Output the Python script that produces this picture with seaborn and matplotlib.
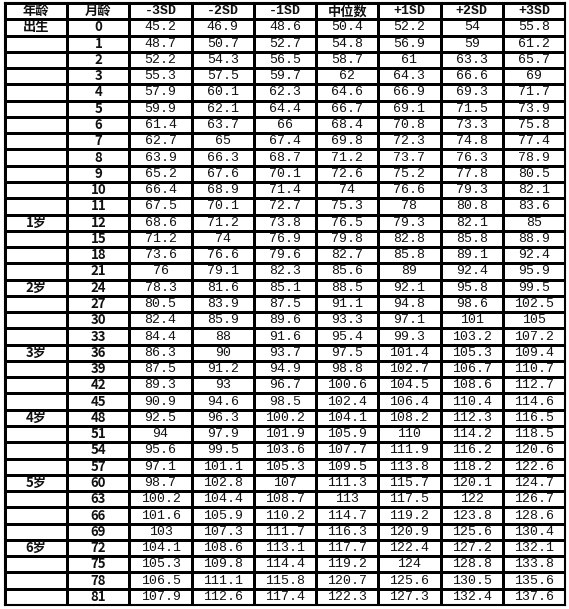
import numpy as np
import pandas as pd
import matplotlib
matplotlib.use("Agg")
import matplotlib.pyplot as plt
import seaborn as sns

headers = ["年龄", "月龄", "-3SD", "-2SD", "-1SD", "中位数", "+1SD", "+2SD", "+3SD"]
months = [0,1,2,3,4,5,6,7,8,9,10,11,12,15,18,21,24,27,30,33,36,39,42,45,48,51,54,57,60,63,66,69,72,75,78,81]
age_labels = {0: "出生", 12: "1岁", 24: "2岁", 36: "3岁", 48: "4岁", 60: "5岁", 72: "6岁"}
sd_m3 = [45.2,48.7,52.2,55.3,57.9,59.9,61.4,62.7,63.9,65.2,66.4,67.5,68.6,71.2,73.6,76,78.3,80.5,82.4,84.4,86.3,87.5,89.3,90.9,92.5,94,95.6,97.1,98.7,100.2,101.6,103,104.1,105.3,106.5,107.9]
sd_m2 = [46.9,50.7,54.3,57.5,60.1,62.1,63.7,65,66.3,67.6,68.9,70.1,71.2,74,76.6,79.1,81.6,83.9,85.9,88,90,91.2,93,94.6,96.3,97.9,99.5,101.1,102.8,104.4,105.9,107.3,108.6,109.8,111.1,112.6]
sd_m1 = [48.6,52.7,56.5,59.7,62.3,64.4,66,67.4,68.7,70.1,71.4,72.7,73.8,76.9,79.6,82.3,85.1,87.5,89.6,91.6,93.7,94.9,96.7,98.5,100.2,101.9,103.6,105.3,107,108.7,110.2,111.7,113.1,114.4,115.8,117.4]
median = [50.4,54.8,58.7,62,64.6,66.7,68.4,69.8,71.2,72.6,74,75.3,76.5,79.8,82.7,85.6,88.5,91.1,93.3,95.4,97.5,98.8,100.6,102.4,104.1,105.9,107.7,109.5,111.3,113,114.7,116.3,117.7,119.2,120.7,122.3]
sd_p1 = [52.2,56.9,61,64.3,66.9,69.1,70.8,72.3,73.7,75.2,76.6,78,79.3,82.8,85.8,89,92.1,94.8,97.1,99.3,101.4,102.7,104.5,106.4,108.2,110,111.9,113.8,115.7,117.5,119.2,120.9,122.4,124,125.6,127.3]
sd_p2 = [54,59,63.3,66.6,69.3,71.5,73.3,74.8,76.3,77.8,79.3,80.8,82.1,85.8,89.1,92.4,95.8,98.6,101,103.2,105.3,106.7,108.6,110.4,112.3,114.2,116.2,118.2,120.1,122,123.8,125.6,127.2,128.8,130.5,132.4]
sd_p3 = [55.8,61.2,65.7,69,71.7,73.9,75.8,77.4,78.9,80.5,82.1,83.6,85,88.9,92.4,95.9,99.5,102.5,105,107.2,109.4,110.7,112.7,114.6,116.5,118.5,120.6,122.6,124.7,126.7,128.6,130.4,132.1,133.8,135.6,137.6]

sns.set_theme(style="white")
plt.rcParams['font.family'] = ['Noto Sans CJK SC', 'DejaVu Sans']

series = [sd_m3, sd_m2, sd_m1, median, sd_p1, sd_p2, sd_p3]
labels = [headers]
for i, m in enumerate(months):
    row = [age_labels.get(m, ""), str(m)] + [f"{s[i]:g}" for s in series]
    labels.append(row)
labels = np.array(labels, dtype=object)
zeros = np.zeros(labels.shape)

fig = plt.figure(figsize=(5.69, 6.09), dpi=100)
ax = fig.add_axes([5/569, 4/609, 560/569, 602/609])
sns.heatmap(zeros, annot=labels, fmt="", cmap=["white"], cbar=False,
            linewidths=0.8, linecolor="black", ax=ax,
            annot_kws={"fontsize": 9, "color": "#111111"})
ax.set_xticks([]); ax.set_yticks([])
for sp in ax.spines.values():
    sp.set_visible(True); sp.set_linewidth(1.5); sp.set_color("black")

ncol = labels.shape[1]
for k, t in enumerate(ax.texts):
    r, c = divmod(k, ncol)
    if r == 0 or c < 2:
        t.set_fontweight("bold")
        t.set_fontsize(9.5)
    else:
        t.set_family(["Liberation Mono", "DejaVu Sans Mono"])
        t.set_fontsize(9.5)
    if r == 0 and c >= 2 and c != 5:
        t.set_family(["Liberation Mono", "DejaVu Sans Mono"])

fig.savefig("out.png", dpi=100)
